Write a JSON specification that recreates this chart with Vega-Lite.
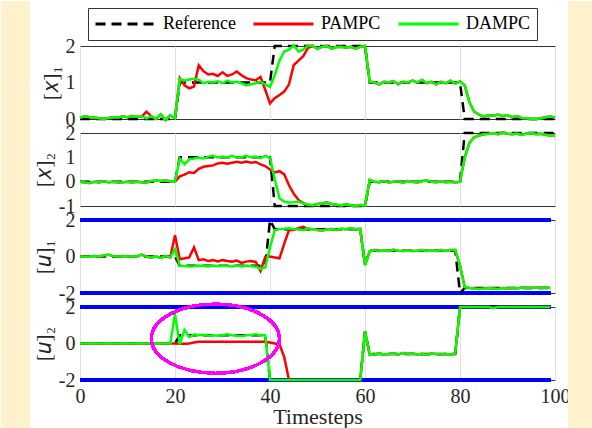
{
"$schema": "https://vega.github.io/schema/vega-lite/v6.json",
"background": "#ffffff",
"padding": 0,
"spacing": 14,
"bounds": "flush",
"datasets": {
"x1": [
{"t":0,"r":0,"p":0.03,"d":0.03},{"t":1,"r":0,"p":0.08,"d":0.08},{"t":2,"r":0,"p":0.05,"d":0.05},{"t":3,"r":0,"p":0.04,"d":0.04},{"t":4,"r":0,"p":0.02,"d":0.02},
{"t":5,"r":0,"p":0,"d":0},{"t":6,"r":0,"p":0.03,"d":0.03},{"t":7,"r":0,"p":0.05,"d":0.05},{"t":8,"r":0,"p":0.04,"d":0.04},{"t":9,"r":0,"p":0.07,"d":0.07},
{"t":10,"r":0,"p":0.05,"d":0.05},{"t":11,"r":0,"p":0.08,"d":0.08},{"t":12,"r":0,"p":0.06,"d":0.06},{"t":13,"r":0,"p":0.07,"d":0.07},{"t":14,"r":0,"p":0.2,"d":0.02},
{"t":15,"r":0,"p":0.08,"d":0.08},{"t":16,"r":0,"p":0,"d":0},{"t":17,"r":0,"p":0.13,"d":0.13},{"t":18,"r":0,"p":-0.03,"d":-0.03},{"t":19,"r":0,"p":0.1,"d":0.1},
{"t":20,"r":0,"p":0.02,"d":0.02},{"t":21,"r":1,"p":1.12,"d":1.1},{"t":22,"r":1,"p":0.92,"d":1.05},{"t":23,"r":1,"p":0.84,"d":1.08},{"t":24,"r":1,"p":0.89,"d":1.1},
{"t":25,"r":1,"p":1.47,"d":1.08},{"t":26,"r":1,"p":1.31,"d":0.98},{"t":27,"r":1,"p":1.22,"d":1.02},{"t":28,"r":1,"p":1.24,"d":1.0},{"t":29,"r":1,"p":1.18,"d":1.03},
{"t":30,"r":1,"p":1.28,"d":0.98},{"t":31,"r":1,"p":1.18,"d":1.05},{"t":32,"r":1,"p":1.22,"d":1.0},{"t":33,"r":1,"p":1.3,"d":1.02},{"t":34,"r":1,"p":1.2,"d":0.98},
{"t":35,"r":1,"p":1.12,"d":0.92},{"t":36,"r":1,"p":1.08,"d":0.95},{"t":37,"r":1,"p":1.06,"d":0.98},{"t":38,"r":1,"p":1.15,"d":1.02},{"t":39,"r":1,"p":0.8,"d":0.95},
{"t":40,"r":1,"p":0.43,"d":0.88},{"t":41,"r":2,"p":0.57,"d":1.2},{"t":42,"r":2,"p":0.66,"d":1.6},{"t":43,"r":2,"p":0.75,"d":1.85},{"t":44,"r":2,"p":0.95,"d":1.9},
{"t":45,"r":2,"p":1.48,"d":2.02},{"t":46,"r":2,"p":1.6,"d":1.85},{"t":47,"r":2,"p":1.72,"d":1.9},{"t":48,"r":2,"p":1.95,"d":2.02},{"t":49,"r":2,"p":2.0,"d":2.0},
{"t":50,"r":2,"p":1.92,"d":1.92},{"t":51,"r":2,"p":1.98,"d":1.98},{"t":52,"r":2,"p":2.0,"d":2.0},{"t":53,"r":2,"p":1.93,"d":1.93},{"t":54,"r":2,"p":1.97,"d":1.97},
{"t":55,"r":2,"p":1.98,"d":1.98},{"t":56,"r":2,"p":1.95,"d":1.95},{"t":57,"r":2,"p":1.98,"d":1.98},{"t":58,"r":2,"p":1.93,"d":1.93},{"t":59,"r":2,"p":1.98,"d":1.98},
{"t":60,"r":2,"p":2.0,"d":2.0},{"t":61,"r":1,"p":1.02,"d":1.02},{"t":62,"r":1,"p":1.0,"d":1.0},{"t":63,"r":1,"p":0.95,"d":0.95},{"t":64,"r":1,"p":1.02,"d":1.02},
{"t":65,"r":1,"p":1.0,"d":1.0},{"t":66,"r":1,"p":1.04,"d":1.04},{"t":67,"r":1,"p":0.95,"d":0.95},{"t":68,"r":1,"p":1.02,"d":1.02},{"t":69,"r":1,"p":1.0,"d":1.0},
{"t":70,"r":1,"p":1.05,"d":1.05},{"t":71,"r":1,"p":1.0,"d":1.0},{"t":72,"r":1,"p":1.07,"d":1.07},{"t":73,"r":1,"p":0.98,"d":0.98},{"t":74,"r":1,"p":1.02,"d":1.02},
{"t":75,"r":1,"p":0.95,"d":0.95},{"t":76,"r":1,"p":1.02,"d":1.02},{"t":77,"r":1,"p":0.98,"d":0.98},{"t":78,"r":1,"p":1.05,"d":1.05},{"t":79,"r":1,"p":0.97,"d":0.97},
{"t":80,"r":1,"p":1.03,"d":1.03},{"t":81,"r":0,"p":0.92,"d":0.92},{"t":82,"r":0,"p":0.45,"d":0.45},{"t":83,"r":0,"p":0.2,"d":0.2},{"t":84,"r":0,"p":0.12,"d":0.12},
{"t":85,"r":0,"p":0.07,"d":0.07},{"t":86,"r":0,"p":0.1,"d":0.1},{"t":87,"r":0,"p":0.09,"d":0.09},{"t":88,"r":0,"p":0.12,"d":0.12},{"t":89,"r":0,"p":0.08,"d":0.08},
{"t":90,"r":0,"p":0.1,"d":0.1},{"t":91,"r":0,"p":0.05,"d":0.05},{"t":92,"r":0,"p":0.08,"d":0.08},{"t":93,"r":0,"p":0.03,"d":0.03},{"t":94,"r":0,"p":0.02,"d":0.02},
{"t":95,"r":0,"p":0,"d":0},{"t":96,"r":0,"p":0,"d":0},{"t":97,"r":0,"p":0.02,"d":0.02},{"t":98,"r":0,"p":0.05,"d":0.05},{"t":99,"r":0,"p":0.07,"d":0.07},
{"t":100,"r":0,"p":0.04,"d":0.04}
],
"x2": [
{"t":0,"r":0,"p":0,"d":0},{"t":1,"r":0,"p":-0.03,"d":-0.03},{"t":2,"r":0,"p":-0.05,"d":-0.05},{"t":3,"r":0,"p":0,"d":0},{"t":4,"r":0,"p":-0.03,"d":-0.03},
{"t":5,"r":0,"p":0.02,"d":0.02},{"t":6,"r":0,"p":-0.02,"d":-0.02},{"t":7,"r":0,"p":0,"d":0},{"t":8,"r":0,"p":-0.03,"d":-0.03},{"t":9,"r":0,"p":-0.02,"d":-0.02},
{"t":10,"r":0,"p":0,"d":0},{"t":11,"r":0,"p":-0.03,"d":-0.03},{"t":12,"r":0,"p":0,"d":0},{"t":13,"r":0,"p":-0.02,"d":-0.02},{"t":14,"r":0,"p":-0.04,"d":-0.04},
{"t":15,"r":0,"p":0.03,"d":0.03},{"t":16,"r":0,"p":0.05,"d":0.05},{"t":17,"r":0,"p":0.03,"d":0.03},{"t":18,"r":0,"p":0.05,"d":0.05},{"t":19,"r":0,"p":0.02,"d":0.02},
{"t":20,"r":0,"p":0,"d":0},{"t":21,"r":1,"p":0.22,"d":0.95},{"t":22,"r":1,"p":0.29,"d":0.71},{"t":23,"r":1,"p":0.39,"d":0.92},{"t":24,"r":1,"p":0.36,"d":0.95},
{"t":25,"r":1,"p":0.53,"d":0.99},{"t":26,"r":1,"p":0.61,"d":0.95},{"t":27,"r":1,"p":0.64,"d":1.03},{"t":28,"r":1,"p":0.67,"d":1.06},{"t":29,"r":1,"p":0.75,"d":0.99},
{"t":30,"r":1,"p":0.78,"d":1.03},{"t":31,"r":1,"p":0.74,"d":0.99},{"t":32,"r":1,"p":0.78,"d":1.06},{"t":33,"r":1,"p":0.82,"d":0.99},{"t":34,"r":1,"p":0.78,"d":1.01},
{"t":35,"r":1,"p":0.83,"d":1.06},{"t":36,"r":1,"p":0.78,"d":1.0},{"t":37,"r":1,"p":0.81,"d":1.03},{"t":38,"r":1,"p":0.71,"d":0.97},{"t":39,"r":1,"p":0.64,"d":1.06},
{"t":40,"r":1,"p":0.5,"d":0.99},{"t":41,"r":-1,"p":0.38,"d":0.1},{"t":42,"r":-1,"p":0.43,"d":-0.68},{"t":43,"r":-1,"p":0.3,"d":-0.82},{"t":44,"r":-1,"p":-0.15,"d":-0.86},
{"t":45,"r":-1,"p":-0.5,"d":-0.85},{"t":46,"r":-1,"p":-0.75,"d":-0.82},{"t":47,"r":-1,"p":-0.88,"d":-0.9},{"t":48,"r":-1,"p":-0.95,"d":-0.95},{"t":49,"r":-1,"p":-0.97,"d":-0.97},
{"t":50,"r":-1,"p":-0.92,"d":-0.92},{"t":51,"r":-1,"p":-0.9,"d":-0.9},{"t":52,"r":-1,"p":-0.85,"d":-0.85},{"t":53,"r":-1,"p":-0.92,"d":-0.92},{"t":54,"r":-1,"p":-0.95,"d":-0.95},
{"t":55,"r":-1,"p":-0.98,"d":-0.98},{"t":56,"r":-1,"p":-0.93,"d":-0.93},{"t":57,"r":-1,"p":-0.97,"d":-0.97},{"t":58,"r":-1,"p":-1.0,"d":-1.0},{"t":59,"r":-1,"p":-0.96,"d":-0.96},
{"t":60,"r":-1,"p":-0.98,"d":-0.98},{"t":61,"r":0,"p":0.07,"d":0.07},{"t":62,"r":0,"p":0,"d":0},{"t":63,"r":0,"p":-0.02,"d":-0.02},{"t":64,"r":0,"p":0.03,"d":0.03},
{"t":65,"r":0,"p":-0.03,"d":-0.03},{"t":66,"r":0,"p":0,"d":0},{"t":67,"r":0,"p":0.02,"d":0.02},{"t":68,"r":0,"p":-0.05,"d":-0.05},{"t":69,"r":0,"p":0.03,"d":0.03},
{"t":70,"r":0,"p":0,"d":0},{"t":71,"r":0,"p":-0.03,"d":-0.03},{"t":72,"r":0,"p":0.03,"d":0.03},{"t":73,"r":0,"p":0.05,"d":0.05},{"t":74,"r":0,"p":0,"d":0},
{"t":75,"r":0,"p":-0.02,"d":-0.02},{"t":76,"r":0,"p":0.02,"d":0.02},{"t":77,"r":0,"p":-0.02,"d":-0.02},{"t":78,"r":0,"p":0,"d":0},{"t":79,"r":0,"p":-0.03,"d":-0.03},
{"t":80,"r":0,"p":0,"d":0},{"t":81,"r":2,"p":1.0,"d":1.0},{"t":82,"r":2,"p":1.6,"d":1.6},{"t":83,"r":2,"p":1.82,"d":1.82},{"t":84,"r":2,"p":1.9,"d":1.9},
{"t":85,"r":2,"p":1.95,"d":1.95},{"t":86,"r":2,"p":1.97,"d":1.97},{"t":87,"r":2,"p":2.0,"d":2.0},{"t":88,"r":2,"p":1.95,"d":1.95},{"t":89,"r":2,"p":2.02,"d":2.02},
{"t":90,"r":2,"p":1.97,"d":1.97},{"t":91,"r":2,"p":1.95,"d":1.95},{"t":92,"r":2,"p":1.98,"d":1.98},{"t":93,"r":2,"p":1.92,"d":1.92},{"t":94,"r":2,"p":1.98,"d":1.98},
{"t":95,"r":2,"p":2.0,"d":2.0},{"t":96,"r":2,"p":1.95,"d":1.95},{"t":97,"r":2,"p":1.97,"d":1.97},{"t":98,"r":2,"p":1.93,"d":1.93},{"t":99,"r":2,"p":1.9,"d":1.9},
{"t":100,"r":2,"p":1.88,"d":1.88}
],
"u1": [
{"t":0,"r":0,"p":0,"d":0},{"t":1,"r":0,"p":-0.02,"d":-0.02},{"t":2,"r":0,"p":0,"d":0},{"t":3,"r":0,"p":0.03,"d":0.03},{"t":4,"r":0,"p":0,"d":0},
{"t":5,"r":0,"p":0.05,"d":0.05},{"t":6,"r":0,"p":0.1,"d":0.1},{"t":7,"r":0,"p":0.02,"d":0.02},{"t":8,"r":0,"p":0,"d":0},{"t":9,"r":0,"p":0.03,"d":0.03},
{"t":10,"r":0,"p":0,"d":0},{"t":11,"r":0,"p":0.02,"d":0.02},{"t":12,"r":0,"p":0,"d":0},{"t":13,"r":0,"p":0.1,"d":0.1},{"t":14,"r":0,"p":-0.02,"d":-0.02},
{"t":15,"r":0,"p":-0.05,"d":-0.05},{"t":16,"r":0,"p":0,"d":0},{"t":17,"r":0,"p":-0.08,"d":-0.08},{"t":18,"r":0,"p":0.02,"d":0.02},{"t":19,"r":0,"p":-0.05,"d":-0.05},
{"t":20,"r":0,"p":1.17,"d":0.4},{"t":21,"r":-0.5,"p":-0.15,"d":-0.5},{"t":22,"r":-0.5,"p":-0.1,"d":-0.52},{"t":23,"r":-0.5,"p":-0.05,"d":-0.55},{"t":24,"r":-0.5,"p":0.5,"d":-0.53},
{"t":25,"r":-0.5,"p":-0.2,"d":-0.5},{"t":26,"r":-0.5,"p":-0.15,"d":-0.52},{"t":27,"r":-0.5,"p":-0.25,"d":-0.55},{"t":28,"r":-0.5,"p":-0.2,"d":-0.5},{"t":29,"r":-0.5,"p":-0.27,"d":-0.53},
{"t":30,"r":-0.5,"p":-0.2,"d":-0.5},{"t":31,"r":-0.5,"p":-0.25,"d":-0.52},{"t":32,"r":-0.5,"p":-0.28,"d":-0.55},{"t":33,"r":-0.5,"p":-0.22,"d":-0.5},{"t":34,"r":-0.5,"p":-0.35,"d":-0.55},
{"t":35,"r":-0.5,"p":-0.28,"d":-0.5},{"t":36,"r":-0.5,"p":-0.25,"d":-0.53},{"t":37,"r":-0.5,"p":-0.3,"d":-0.56},{"t":38,"r":-0.5,"p":-0.8,"d":-0.68},{"t":39,"r":-0.5,"p":-0.02,"d":-0.6},
{"t":40,"r":2,"p":0,"d":0.5},{"t":41,"r":1.5,"p":-0.05,"d":1.44},{"t":42,"r":1.5,"p":-0.1,"d":1.5},{"t":43,"r":1.5,"p":0.7,"d":1.52},{"t":44,"r":1.5,"p":1.45,"d":1.55},
{"t":45,"r":1.5,"p":1.45,"d":1.5},{"t":46,"r":1.5,"p":1.55,"d":1.48},{"t":47,"r":1.5,"p":1.63,"d":1.45},{"t":48,"r":1.5,"p":1.5,"d":1.55},{"t":49,"r":1.5,"p":1.5,"d":1.5},
{"t":50,"r":1.5,"p":1.45,"d":1.45},{"t":51,"r":1.5,"p":1.42,"d":1.42},{"t":52,"r":1.5,"p":1.48,"d":1.48},{"t":53,"r":1.5,"p":1.5,"d":1.5},{"t":54,"r":1.5,"p":1.45,"d":1.45},
{"t":55,"r":1.5,"p":1.52,"d":1.52},{"t":56,"r":1.5,"p":1.5,"d":1.5},{"t":57,"r":1.5,"p":1.55,"d":1.55},{"t":58,"r":1.5,"p":1.5,"d":1.5},{"t":59,"r":1.5,"p":1.52,"d":1.52},
{"t":60,"r":-0.46,"p":-0.46,"d":-0.46},{"t":61,"r":0.32,"p":0.28,"d":0.28},{"t":62,"r":0.32,"p":0.35,"d":0.35},{"t":63,"r":0.32,"p":0.3,"d":0.3},{"t":64,"r":0.32,"p":0.33,"d":0.33},
{"t":65,"r":0.32,"p":0.3,"d":0.3},{"t":66,"r":0.32,"p":0.37,"d":0.37},{"t":67,"r":0.32,"p":0.32,"d":0.32},{"t":68,"r":0.32,"p":0.3,"d":0.3},{"t":69,"r":0.32,"p":0.33,"d":0.33},
{"t":70,"r":0.32,"p":0.3,"d":0.3},{"t":71,"r":0.32,"p":0.32,"d":0.32},{"t":72,"r":0.32,"p":0.35,"d":0.35},{"t":73,"r":0.32,"p":0.3,"d":0.3},{"t":74,"r":0.32,"p":0.33,"d":0.33},
{"t":75,"r":0.32,"p":0.3,"d":0.3},{"t":76,"r":0.32,"p":0.35,"d":0.35},{"t":77,"r":0.32,"p":0.3,"d":0.3},{"t":78,"r":0.32,"p":0.35,"d":0.35},{"t":79,"r":0.32,"p":0.35,"d":0.35},
{"t":80,"r":-2,"p":-0.5,"d":-0.5},{"t":81,"r":-1.72,"p":-1.68,"d":-1.68},{"t":82,"r":-1.72,"p":-1.72,"d":-1.72},{"t":83,"r":-1.72,"p":-1.75,"d":-1.75},{"t":84,"r":-1.72,"p":-1.78,"d":-1.78},
{"t":85,"r":-1.72,"p":-1.75,"d":-1.75},{"t":86,"r":-1.72,"p":-1.72,"d":-1.72},{"t":87,"r":-1.72,"p":-1.75,"d":-1.75},{"t":88,"r":-1.72,"p":-1.78,"d":-1.78},{"t":89,"r":-1.72,"p":-1.73,"d":-1.73},
{"t":90,"r":-1.72,"p":-1.75,"d":-1.75},{"t":91,"r":-1.72,"p":-1.72,"d":-1.72},{"t":92,"r":-1.72,"p":-1.75,"d":-1.75},{"t":93,"r":-1.72,"p":-1.7,"d":-1.7},{"t":94,"r":-1.72,"p":-1.73,"d":-1.73},
{"t":95,"r":-1.72,"p":-1.72,"d":-1.72},{"t":96,"r":-1.72,"p":-1.7,"d":-1.7},{"t":97,"r":-1.72,"p":-1.73,"d":-1.73},{"t":98,"r":-1.72,"p":-1.7,"d":-1.7},{"t":99,"r":-1.72,"p":-1.72,"d":-1.72}
],
"u2": [
{"t":0,"r":0,"p":0,"d":0},{"t":1,"r":0,"p":0,"d":0},{"t":2,"r":0,"p":0,"d":0},{"t":3,"r":0,"p":0,"d":0},{"t":4,"r":0,"p":0,"d":0},
{"t":5,"r":0,"p":0,"d":0},{"t":6,"r":0,"p":0,"d":0},{"t":7,"r":0,"p":0,"d":0},{"t":8,"r":0,"p":0,"d":0},{"t":9,"r":0,"p":0,"d":0},
{"t":10,"r":0,"p":0,"d":0},{"t":11,"r":0,"p":0,"d":0},{"t":12,"r":0,"p":0,"d":0},{"t":13,"r":0,"p":0,"d":0},{"t":14,"r":0,"p":0,"d":0},
{"t":15,"r":0,"p":0,"d":0},{"t":16,"r":0,"p":0,"d":0},{"t":17,"r":0,"p":0,"d":0},{"t":18,"r":0,"p":0,"d":0},{"t":19,"r":0,"p":0,"d":0},
{"t":20,"r":0,"p":0,"d":1.6},{"t":21,"r":0.45,"p":-0.02,"d":-0.05},{"t":22,"r":0.45,"p":-0.02,"d":0.75},{"t":23,"r":0.45,"p":0,"d":0.35},{"t":24,"r":0.45,"p":0.05,"d":0.5},
{"t":25,"r":0.45,"p":0.1,"d":0.45},{"t":26,"r":0.45,"p":0.1,"d":0.48},{"t":27,"r":0.45,"p":0.1,"d":0.42},{"t":28,"r":0.45,"p":0.1,"d":0.45},{"t":29,"r":0.45,"p":0.1,"d":0.43},
{"t":30,"r":0.45,"p":0.1,"d":0.47},{"t":31,"r":0.45,"p":0.1,"d":0.5},{"t":32,"r":0.45,"p":0.1,"d":0.45},{"t":33,"r":0.45,"p":0.1,"d":0.43},{"t":34,"r":0.45,"p":0.1,"d":0.4},
{"t":35,"r":0.45,"p":0.1,"d":0.45},{"t":36,"r":0.45,"p":0.1,"d":0.47},{"t":37,"r":0.45,"p":0.1,"d":0.5},{"t":38,"r":0.45,"p":0.1,"d":0.45},{"t":39,"r":0.45,"p":0.1,"d":0.45},
{"t":40,"r":-2,"p":0.05,"d":-2},{"t":41,"r":-2,"p":0,"d":-2},{"t":42,"r":-2,"p":-0.05,"d":-2},{"t":43,"r":-2,"p":-0.75,"d":-2},{"t":44,"r":-2,"p":-2,"d":-2},
{"t":45,"r":-2,"p":-2,"d":-2},{"t":46,"r":-2,"p":-2,"d":-2},{"t":47,"r":-2,"p":-2,"d":-2},{"t":48,"r":-2,"p":-2,"d":-2},{"t":49,"r":-2,"p":-2,"d":-2},
{"t":50,"r":-2,"p":-2,"d":-2},{"t":51,"r":-2,"p":-2,"d":-2},{"t":52,"r":-2,"p":-2,"d":-2},{"t":53,"r":-2,"p":-2,"d":-2},{"t":54,"r":-2,"p":-2,"d":-2},
{"t":55,"r":-2,"p":-2,"d":-2},{"t":56,"r":-2,"p":-2,"d":-2},{"t":57,"r":-2,"p":-2,"d":-2},{"t":58,"r":-2,"p":-2,"d":-2},{"t":59,"r":-2,"p":-2,"d":-2},
{"t":60,"r":0.67,"p":0.67,"d":0.67},{"t":61,"r":-0.58,"p":-0.63,"d":-0.63},{"t":62,"r":-0.58,"p":-0.6,"d":-0.6},{"t":63,"r":-0.58,"p":-0.55,"d":-0.55},{"t":64,"r":-0.58,"p":-0.62,"d":-0.62},
{"t":65,"r":-0.58,"p":-0.58,"d":-0.58},{"t":66,"r":-0.58,"p":-0.55,"d":-0.55},{"t":67,"r":-0.58,"p":-0.6,"d":-0.6},{"t":68,"r":-0.58,"p":-0.52,"d":-0.52},{"t":69,"r":-0.58,"p":-0.58,"d":-0.58},
{"t":70,"r":-0.58,"p":-0.55,"d":-0.55},{"t":71,"r":-0.58,"p":-0.6,"d":-0.6},{"t":72,"r":-0.58,"p":-0.58,"d":-0.58},{"t":73,"r":-0.58,"p":-0.62,"d":-0.62},{"t":74,"r":-0.58,"p":-0.55,"d":-0.55},
{"t":75,"r":-0.58,"p":-0.58,"d":-0.58},{"t":76,"r":-0.58,"p":-0.6,"d":-0.6},{"t":77,"r":-0.58,"p":-0.57,"d":-0.57},{"t":78,"r":-0.58,"p":-0.62,"d":-0.62},{"t":79,"r":-0.58,"p":-0.55,"d":-0.55},
{"t":80,"r":2,"p":2,"d":2},{"t":81,"r":2,"p":2,"d":2},{"t":82,"r":2,"p":2,"d":2},{"t":83,"r":2,"p":2,"d":2},{"t":84,"r":2,"p":2,"d":2},
{"t":85,"r":2,"p":2,"d":2},{"t":86,"r":2,"p":2,"d":2},{"t":87,"r":2,"p":1.95,"d":1.95},{"t":88,"r":2,"p":2,"d":2},{"t":89,"r":2,"p":2,"d":2},
{"t":90,"r":2,"p":2,"d":2},{"t":91,"r":2,"p":2,"d":2},{"t":92,"r":2,"p":2,"d":2},{"t":93,"r":2,"p":2,"d":2},{"t":94,"r":2,"p":2,"d":2},
{"t":95,"r":2,"p":2,"d":2},{"t":96,"r":2,"p":2,"d":2},{"t":97,"r":2,"p":2,"d":2},{"t":98,"r":2,"p":2,"d":2},{"t":99,"r":2,"p":2,"d":2}
]
},
"vconcat": [
{
"width": 475, "height": 73,
"data": {"name": "x1"},
"resolve": {"scale": {"y": "independent"}, "axis": {"y": "independent"}},
"layer": [
{"mark": {"type": "rect", "color": "#fff2cc", "clip": false}, "encoding": {"x": {"datum": -16.6316, "type": "quantitative"}, "x2": {"datum": -10.63}, "y": {"datum": 3.233, "type": "quantitative", "scale": {"domain": [0, 2], "nice": false, "zero": false}, "axis": null}, "y2": {"datum": -0.219}}},
{"mark": {"type": "rect", "color": "#fff2cc", "clip": false}, "encoding": {"x": {"datum": 102.84, "type": "quantitative"}, "x2": {"datum": 108.0}, "y": {"datum": 3.233, "type": "quantitative", "scale": {"domain": [0, 2], "nice": false, "zero": false}, "axis": null}, "y2": {"datum": -0.219}}},
{"mark": {"type": "line", "strokeWidth": 2.5, "clip": false}, "encoding": {"x": {"field": "t", "type": "quantitative"}, "y": {"field": "r", "type": "quantitative", "scale": {"domain": [0, 2], "nice": false, "zero": false}, "axis": null}, "color": {"datum": "Reference", "scale": {"domain": ["Reference", "PAMPC", "DAMPC"], "range": ["#000000", "#ff0000", "#00ff00"]}, "legend": {"title": null}}, "strokeDash": {"datum": "Reference", "scale": {"domain": ["Reference", "PAMPC", "DAMPC"], "range": [[10, 6], [1, 0], [1, 0]]}, "legend": {"title": null}}}},
{"mark": {"type": "line", "strokeWidth": 2.5, "clip": false}, "encoding": {"x": {"field": "t", "type": "quantitative"}, "y": {"field": "p", "type": "quantitative", "scale": {"domain": [0, 2], "nice": false, "zero": false}, "axis": null}, "color": {"datum": "PAMPC", "scale": {"domain": ["Reference", "PAMPC", "DAMPC"], "range": ["#000000", "#ff0000", "#00ff00"]}, "legend": {"title": null}}}},
{"mark": {"type": "line", "strokeWidth": 2.5, "clip": false}, "encoding": {"x": {"field": "t", "type": "quantitative", "scale": {"domain": [0, 100], "nice": false, "zero": false}, "axis": {"values": [0, 20, 40, 60, 80, 100], "labels": false, "title": null}}, "y": {"field": "d", "type": "quantitative", "scale": {"domain": [0, 2], "nice": false, "zero": false}, "axis": {"values": [0, 1, 2], "title": "[𝑥]₁", "labelOverlap": false}}, "color": {"datum": "DAMPC", "scale": {"domain": ["Reference", "PAMPC", "DAMPC"], "range": ["#000000", "#ff0000", "#00ff00"]}, "legend": {"title": null}}}}
]
},
{
"width": 475, "height": 73,
"data": {"name": "x2"},
"resolve": {"scale": {"y": "independent"}, "axis": {"y": "independent"}},
"layer": [
{"mark": {"type": "rect", "color": "#fff2cc", "clip": false}, "encoding": {"x": {"datum": -16.6316, "type": "quantitative"}, "x2": {"datum": -10.63}, "y": {"datum": 2.33, "type": "quantitative", "scale": {"domain": [-1, 2], "nice": false, "zero": false}, "axis": null}, "y2": {"datum": -1.33}}},
{"mark": {"type": "rect", "color": "#fff2cc", "clip": false}, "encoding": {"x": {"datum": 102.84, "type": "quantitative"}, "x2": {"datum": 108.0}, "y": {"datum": 2.33, "type": "quantitative", "scale": {"domain": [-1, 2], "nice": false, "zero": false}, "axis": null}, "y2": {"datum": -1.33}}},
{"mark": {"type": "line", "strokeWidth": 2.5, "clip": false}, "encoding": {"x": {"field": "t", "type": "quantitative"}, "y": {"field": "r", "type": "quantitative", "scale": {"domain": [-1, 2], "nice": false, "zero": false}, "axis": null}, "color": {"datum": "Reference", "scale": {"domain": ["Reference", "PAMPC", "DAMPC"], "range": ["#000000", "#ff0000", "#00ff00"]}, "legend": {"title": null}}, "strokeDash": {"datum": "Reference", "scale": {"domain": ["Reference", "PAMPC", "DAMPC"], "range": [[10, 6], [1, 0], [1, 0]]}, "legend": {"title": null}}}},
{"mark": {"type": "line", "strokeWidth": 2.5, "clip": false}, "encoding": {"x": {"field": "t", "type": "quantitative"}, "y": {"field": "p", "type": "quantitative", "scale": {"domain": [-1, 2], "nice": false, "zero": false}, "axis": null}, "color": {"datum": "PAMPC", "scale": {"domain": ["Reference", "PAMPC", "DAMPC"], "range": ["#000000", "#ff0000", "#00ff00"]}, "legend": {"title": null}}}},
{"mark": {"type": "line", "strokeWidth": 2.5, "clip": false}, "encoding": {"x": {"field": "t", "type": "quantitative", "scale": {"domain": [0, 100], "nice": false, "zero": false}, "axis": {"values": [0, 20, 40, 60, 80, 100], "labels": false, "title": null}}, "y": {"field": "d", "type": "quantitative", "scale": {"domain": [-1, 2], "nice": false, "zero": false}, "axis": {"values": [-1, 0, 1, 2], "title": "[𝑥]₂", "labelOverlap": false}}, "color": {"datum": "DAMPC", "scale": {"domain": ["Reference", "PAMPC", "DAMPC"], "range": ["#000000", "#ff0000", "#00ff00"]}, "legend": {"title": null}}}}
]
},
{
"width": 475, "height": 73,
"data": {"name": "u1"},
"resolve": {"scale": {"y": "independent"}, "axis": {"y": "independent"}},
"layer": [
{"mark": {"type": "rect", "color": "#fff2cc", "clip": false}, "encoding": {"x": {"datum": -16.6316, "type": "quantitative"}, "x2": {"datum": -10.63}, "y": {"datum": 2.44, "type": "quantitative", "scale": {"domain": [-2, 2], "nice": false, "zero": false}, "axis": null}, "y2": {"datum": -2.44}}},
{"mark": {"type": "rect", "color": "#fff2cc", "clip": false}, "encoding": {"x": {"datum": 102.84, "type": "quantitative"}, "x2": {"datum": 108.0}, "y": {"datum": 2.44, "type": "quantitative", "scale": {"domain": [-2, 2], "nice": false, "zero": false}, "axis": null}, "y2": {"datum": -2.44}}},
{"mark": {"type": "rule", "color": "#0000ff", "strokeWidth": 3, "clip": false}, "encoding": {"x": {"datum": 0, "type": "quantitative"}, "x2": {"datum": 99}, "y": {"datum": 2, "type": "quantitative", "scale": {"domain": [-2, 2], "nice": false, "zero": false}, "axis": null}}},
{"mark": {"type": "rule", "color": "#0000ff", "strokeWidth": 3, "clip": false}, "encoding": {"x": {"datum": 0, "type": "quantitative"}, "x2": {"datum": 99}, "y": {"datum": -2, "type": "quantitative", "scale": {"domain": [-2, 2], "nice": false, "zero": false}, "axis": null}}},
{"mark": {"type": "line", "strokeWidth": 2.5, "clip": false}, "encoding": {"x": {"field": "t", "type": "quantitative"}, "y": {"field": "r", "type": "quantitative", "scale": {"domain": [-2, 2], "nice": false, "zero": false}, "axis": null}, "color": {"datum": "Reference", "scale": {"domain": ["Reference", "PAMPC", "DAMPC"], "range": ["#000000", "#ff0000", "#00ff00"]}, "legend": {"title": null}}, "strokeDash": {"datum": "Reference", "scale": {"domain": ["Reference", "PAMPC", "DAMPC"], "range": [[10, 6], [1, 0], [1, 0]]}, "legend": {"title": null}}}},
{"mark": {"type": "line", "strokeWidth": 2.5, "clip": false}, "encoding": {"x": {"field": "t", "type": "quantitative"}, "y": {"field": "p", "type": "quantitative", "scale": {"domain": [-2, 2], "nice": false, "zero": false}, "axis": null}, "color": {"datum": "PAMPC", "scale": {"domain": ["Reference", "PAMPC", "DAMPC"], "range": ["#000000", "#ff0000", "#00ff00"]}, "legend": {"title": null}}}},
{"mark": {"type": "line", "strokeWidth": 2.5, "clip": false}, "encoding": {"x": {"field": "t", "type": "quantitative", "scale": {"domain": [0, 100], "nice": false, "zero": false}, "axis": {"values": [0, 20, 40, 60, 80, 100], "labels": false, "title": null}}, "y": {"field": "d", "type": "quantitative", "scale": {"domain": [-2, 2], "nice": false, "zero": false}, "axis": {"values": [-2, 0, 2], "title": "[𝑢]₁", "labelOverlap": false}}, "color": {"datum": "DAMPC", "scale": {"domain": ["Reference", "PAMPC", "DAMPC"], "range": ["#000000", "#ff0000", "#00ff00"]}, "legend": {"title": null}}}}
]
},
{
"width": 475, "height": 73,
"data": {"name": "u2"},
"resolve": {"scale": {"y": "independent"}, "axis": {"y": "independent"}},
"layer": [
{"mark": {"type": "rect", "color": "#fff2cc", "clip": false}, "encoding": {"x": {"datum": -16.6316, "type": "quantitative"}, "x2": {"datum": -10.63}, "y": {"datum": 2.44, "type": "quantitative", "scale": {"domain": [-2, 2], "nice": false, "zero": false}, "axis": null}, "y2": {"datum": -4.685}}},
{"mark": {"type": "rect", "color": "#fff2cc", "clip": false}, "encoding": {"x": {"datum": 102.84, "type": "quantitative"}, "x2": {"datum": 108.0}, "y": {"datum": 2.44, "type": "quantitative", "scale": {"domain": [-2, 2], "nice": false, "zero": false}, "axis": null}, "y2": {"datum": -4.685}}},
{"mark": {"type": "rule", "color": "#0000ff", "strokeWidth": 3, "clip": false}, "encoding": {"x": {"datum": 0, "type": "quantitative"}, "x2": {"datum": 99}, "y": {"datum": 2, "type": "quantitative", "scale": {"domain": [-2, 2], "nice": false, "zero": false}, "axis": null}}},
{"mark": {"type": "rule", "color": "#0000ff", "strokeWidth": 3, "clip": false}, "encoding": {"x": {"datum": 0, "type": "quantitative"}, "x2": {"datum": 99}, "y": {"datum": -2, "type": "quantitative", "scale": {"domain": [-2, 2], "nice": false, "zero": false}, "axis": null}}},
{"mark": {"type": "line", "strokeWidth": 2.5, "clip": false}, "encoding": {"x": {"field": "t", "type": "quantitative"}, "y": {"field": "r", "type": "quantitative", "scale": {"domain": [-2, 2], "nice": false, "zero": false}, "axis": null}, "color": {"datum": "Reference", "scale": {"domain": ["Reference", "PAMPC", "DAMPC"], "range": ["#000000", "#ff0000", "#00ff00"]}, "legend": {"title": null}}, "strokeDash": {"datum": "Reference", "scale": {"domain": ["Reference", "PAMPC", "DAMPC"], "range": [[10, 6], [1, 0], [1, 0]]}, "legend": {"title": null}}}},
{"mark": {"type": "line", "strokeWidth": 2.5, "clip": false}, "encoding": {"x": {"field": "t", "type": "quantitative"}, "y": {"field": "p", "type": "quantitative", "scale": {"domain": [-2, 2], "nice": false, "zero": false}, "axis": null}, "color": {"datum": "PAMPC", "scale": {"domain": ["Reference", "PAMPC", "DAMPC"], "range": ["#000000", "#ff0000", "#00ff00"]}, "legend": {"title": null}}}},
{"mark": {"type": "line", "strokeWidth": 2.5, "clip": false}, "encoding": {"x": {"field": "t", "type": "quantitative", "scale": {"domain": [0, 100], "nice": false, "zero": false}, "axis": {"values": [0, 20, 40, 60, 80, 100], "title": "Timesteps"}}, "y": {"field": "d", "type": "quantitative", "scale": {"domain": [-2, 2], "nice": false, "zero": false}, "axis": {"values": [-2, 0, 2], "title": "[𝑢]₂", "labelOverlap": false}}, "color": {"datum": "DAMPC", "scale": {"domain": ["Reference", "PAMPC", "DAMPC"], "range": ["#000000", "#ff0000", "#00ff00"]}, "legend": {"title": null}}}},
{"mark": {"type": "point", "shape": "M-1,0A1,0.54,0,1,1,1,0A1,0.54,0,1,1,-1,0Z", "size": 16384, "filled": false, "stroke": "#ff00ff", "strokeWidth": 2.5, "opacity": 1, "clip": false}, "encoding": {"x": {"datum": 28.5, "type": "quantitative"}, "y": {"datum": 0.27, "type": "quantitative", "scale": {"domain": [-2, 2], "nice": false, "zero": false}, "axis": null}}}
]
}
],
"config": {
"font": "Liberation Serif",
"view": {"stroke": "#333333", "strokeWidth": 1},
"axis": {"ticks": false, "domain": false, "grid": true, "gridColor": "#e0e0e0", "gridWidth": 1, "format": "d", "labelOverlap": false, "labelFont": "Liberation Serif", "labelFontSize": 20, "labelColor": "#262626", "titleFont": "Liberation Serif", "titleFontSize": 22, "titleFontWeight": "normal", "titleColor": "#262626", "labelExpr": "replace(datum.label, '−', '-')"},
"axisX": {"labelFlush": false, "labelPadding": 6, "titlePadding": 0},
"axisY": {"labelPadding": 5, "titlePadding": 3},
"legend": {"orient": "none", "legendX": 8, "legendY": -38, "direction": "horizontal", "symbolType": "stroke", "symbolSize": 3600, "clipHeight": 20, "symbolStrokeWidth": 3, "labelFont": "Liberation Serif", "labelFontSize": 18, "labelColor": "#000000", "labelOffset": 6, "columnPadding": 16, "padding": 6, "strokeColor": "#333333", "fillColor": "#ffffff", "labelLimit": 300}
}
}
